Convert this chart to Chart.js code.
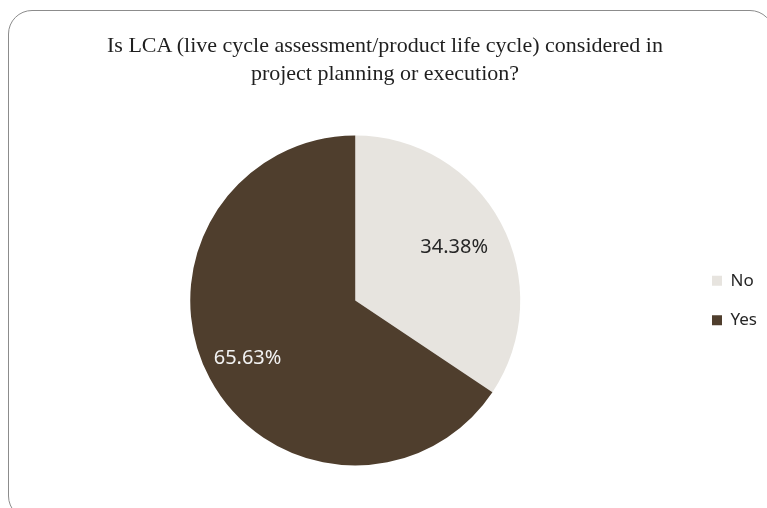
<!DOCTYPE html>
<html>
<head>
<meta charset="utf-8">
<title>LCA in project planning</title>
<script src="https://cdn.jsdelivr.net/npm/chart.js@4/dist/chart.umd.min.js"></script>
<style>
  html, body { margin: 0; padding: 0; background: #fff; overflow: hidden; }
  .frame {
    position: absolute;
    left: 8px;
    top: 10px;
    width: 766px;
    height: 510px;
    border: 1.5px solid #8c8c8c;
    border-radius: 24px;
    box-sizing: border-box;
  }
  .chart-title {
    position: absolute;
    left: 0;
    top: 31px;
    width: 770px;
    margin: 0;
    text-align: center;
    font: 22px/28px "Liberation Serif", serif;
    color: #1f1f1f;
  }
  .chart-box { position: absolute; left: 0; top: 0; width: 767px; height: 508px; }
</style>
</head>
<body>
<div class="frame"></div>
<div class="chart-box"><canvas id="chart"></canvas></div>
<h1 class="chart-title" id="title"></h1>
<script>
// Survey answers, share of respondents in percent
const answers = ['No', 'Yes'];
const shares = [34.38, 65.63];
const sliceColors = ['#e7e4df', '#4f3e2d'];
const labelColors = ['#262626', '#f2f2f2'];
const titleLines = [
  'Is LCA (live cycle assessment/product life cycle) considered in',
  'project planning or execution?'
];

const titleEl = document.getElementById('title');
titleLines.forEach((line, i) => {
  if (i) titleEl.appendChild(document.createElement('br'));
  titleEl.appendChild(document.createTextNode(line));
});

// Writes each slice's percentage inside the slice
const sliceLabels = {
  id: 'sliceLabels',
  afterDatasetsDraw(chart, args, opts) {
    const ctx = chart.ctx;
    const meta = chart.getDatasetMeta(0);
    ctx.save();
    ctx.font = '20px "Noto Sans"';
    ctx.textAlign = 'center';
    ctx.textBaseline = 'middle';
    meta.data.forEach((arc, i) => {
      const { x, y, startAngle, endAngle, outerRadius } = arc.getProps(['x', 'y', 'startAngle', 'endAngle', 'outerRadius'], true);
      const mid = (startAngle + endAngle) / 2;
      const r = outerRadius * opts.radius[i];
      ctx.fillStyle = labelColors[i];
      ctx.fillText(shares[i].toFixed(2) + '%', x + Math.cos(mid) * r, y + Math.sin(mid) * r);
    });
    ctx.restore();
  }
};

new Chart(document.getElementById('chart'), {
  type: 'pie',
  data: {
    labels: answers,
    datasets: [{
      data: shares,
      backgroundColor: sliceColors,
      borderWidth: 0,
      hoverOffset: 0
    }]
  },
  options: {
    responsive: true,
    maintainAspectRatio: false,
    animation: false,
    events: [],
    layout: { padding: { left: 21, right: 0, top: 135.5, bottom: 42.5 } },
    plugins: {
      title: { display: false },
      legend: {
        position: 'right',
        fullSize: false,
        labels: {
          boxWidth: 10,
          boxHeight: 10,
          padding: 22.5,
          color: '#262626',
          font: { family: '"Noto Sans"', size: 17 }
        }
      },
      tooltip: { enabled: false },
      sliceLabels: { radius: [0.68, 0.74] }
    }
  },
  plugins: [sliceLabels]
});
</script>
</body>
</html>
